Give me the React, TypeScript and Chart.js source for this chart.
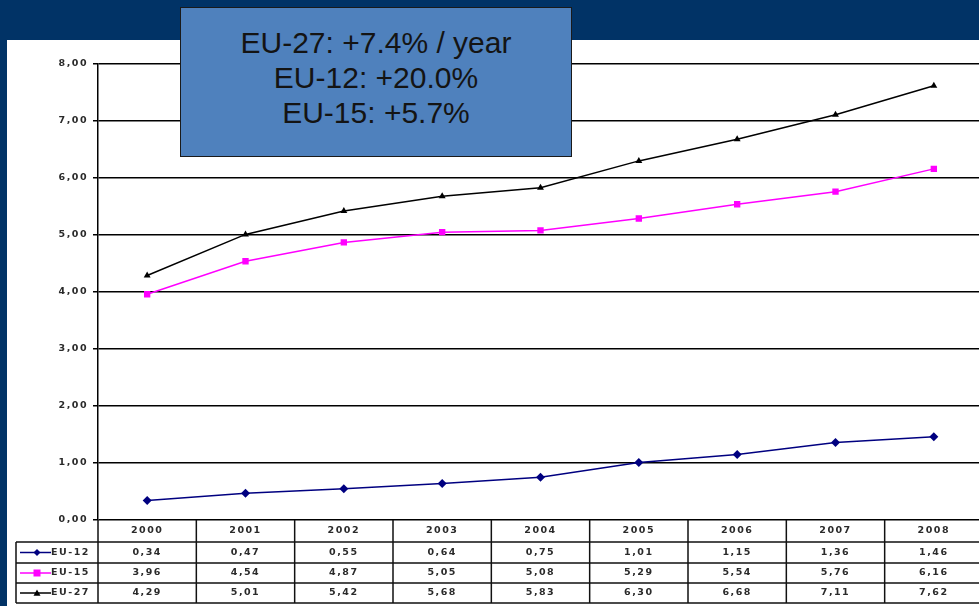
import React, { useEffect, useRef } from 'react';
import { Chart, registerables } from 'chart.js';

Chart.register(...registerables);

const years = ['2000', '2001', '2002', '2003', '2004', '2005', '2006', '2007', '2008'];
const eu12 = [0.34, 0.47, 0.55, 0.64, 0.75, 1.01, 1.15, 1.36, 1.46];
const eu15 = [3.96, 4.54, 4.87, 5.05, 5.08, 5.29, 5.54, 5.76, 6.16];
const eu27 = [4.29, 5.01, 5.42, 5.68, 5.83, 6.30, 6.68, 7.11, 7.62];
const yTicks = [0, 1, 2, 3, 4, 5, 6, 7, 8];
const seriesNames = ['EU-12', 'EU-15', 'EU-27'];
const seriesColors = ['#000080', '#FF00FF', '#000000'];
const seriesMarkers = ['rectRot', 'rect', 'triangle'];
const growthLines = ['EU-27: +7.4% / year', 'EU-12: +20.0%', 'EU-15: +5.7%'];

const fmt = (v: number) => v.toFixed(2).replace('.', ',');
const SMALL_FONT = 'bold 9.5px "DejaVu Sans", sans-serif';

function drawMarker(ctx: CanvasRenderingContext2D, style: string, x: number, y: number, r: number, color: string) {
  ctx.fillStyle = color;
  ctx.beginPath();
  if (style === 'rectRot') {
    ctx.moveTo(x, y - r); ctx.lineTo(x + r, y); ctx.lineTo(x, y + r); ctx.lineTo(x - r, y);
  } else if (style === 'rect') {
    ctx.rect(x - r, y - r, 2 * r, 2 * r);
  } else {
    ctx.moveTo(x, y - r); ctx.lineTo(x + r, y + r * 0.8); ctx.lineTo(x - r, y + r * 0.8);
  }
  ctx.closePath();
  ctx.fill();
}

const panelPlugin = {
  id: 'panel',
  beforeDraw(chart: any) {
    const ctx = chart.ctx as CanvasRenderingContext2D;
    ctx.save();
    ctx.fillStyle = '#013366';
    ctx.fillRect(0, 0, chart.width, chart.height);
    ctx.fillStyle = '#ffffff';
    ctx.fillRect(7, 40, chart.width - 7, chart.height - 40);
    ctx.restore();
  },
  afterDraw(chart: any) {
    const ctx = chart.ctx as any;
    const xs = chart.scales.x;
    const ys = chart.scales.y;
    const n = years.length;
    const colW = (xs.right - xs.left) / n;
    const top = chart.chartArea.bottom;
    const rowY = [top, top + 22, top + 43, top + 63, top + 83];
    const legendLeft = 16;
    ctx.save();
    ctx.strokeStyle = '#111';
    ctx.lineWidth = 1.5;
    ctx.beginPath();
    for (let r = 1; r < rowY.length; r++) {
      ctx.moveTo(legendLeft, rowY[r]);
      ctx.lineTo(xs.right + 20, rowY[r]);
    }
    ctx.moveTo(legendLeft, rowY[1]);
    ctx.lineTo(legendLeft, rowY[4]);
    for (let i = 0; i <= n; i++) {
      const x = xs.left + i * colW;
      ctx.moveTo(x, rowY[0]);
      ctx.lineTo(x, rowY[4]);
    }
    ctx.stroke();

    ctx.font = SMALL_FONT;
    ctx.letterSpacing = '1.5px';
    ctx.fillStyle = '#2a2a2a';
    // y tick labels
    ctx.textAlign = 'right';
    ctx.textBaseline = 'middle';
    yTicks.forEach((t) => {
      ctx.fillText(fmt(t), ys.left + 88, ys.getPixelForValue(t));
    });

    ctx.textAlign = 'center';
    years.forEach((y, i) => {
      ctx.fillText(y, xs.getPixelForValue(i), (rowY[0] + rowY[1]) / 2);
    });
    const all = [eu12, eu15, eu27];
    all.forEach((arr, s) => {
      const cy = (rowY[s + 1] + rowY[s + 2]) / 2;
      arr.forEach((v, i) => {
        ctx.fillStyle = '#2a2a2a';
        ctx.fillText(fmt(v), xs.getPixelForValue(i), cy);
      });
      ctx.strokeStyle = seriesColors[s];
      ctx.lineWidth = 1.5;
      ctx.beginPath();
      ctx.moveTo(20, cy);
      ctx.lineTo(51, cy);
      ctx.stroke();
      drawMarker(ctx, seriesMarkers[s], 37, cy, s === 1 ? 3.5 : 3.5, seriesColors[s]);
      ctx.fillStyle = '#2a2a2a';
      ctx.textAlign = 'left';
      ctx.fillText(seriesNames[s], 51, cy);
      ctx.textAlign = 'center';
    });
    ctx.restore();
  },
};

export default function App() {
  const ref = useRef<HTMLCanvasElement | null>(null);
  useEffect(() => {
    if (!ref.current) return;
    const datasets = [eu12, eu15, eu27].map((d, s) => ({
      label: seriesNames[s],
      data: d,
      borderColor: seriesColors[s],
      backgroundColor: seriesColors[s],
      borderWidth: 1.5,
      pointStyle: seriesMarkers[s] as any,
      pointRadius: s === 2 ? 4 : 4.5,
      pointBorderWidth: 0,
      tension: 0,
    }));
    const chart = new Chart(ref.current, {
      type: 'line',
      data: { labels: years, datasets },
      options: {
        responsive: false,
        devicePixelRatio: 1,
        animation: false,
        layout: { padding: { top: 64, bottom: 86, left: 0, right: 9 } },
        plugins: { legend: { display: false }, tooltip: { enabled: false } },
        scales: {
          x: { display: false, offset: true },
          y: {
            min: 0,
            max: 8,
            afterFit: (s: any) => { s.width = 98; },
            ticks: { stepSize: 1, display: false },
            grid: { color: '#000', lineWidth: 1.5, tickLength: 5, drawTicks: true },
            border: { display: true, color: '#000', width: 1.5 },
          },
        },
      },
      plugins: [panelPlugin],
    });
    return () => chart.destroy();
  }, []);

  return (
    <div style={{ position: 'fixed', left: 0, top: 0, width: 979, height: 606, overflow: 'hidden' }}>
      <canvas ref={ref} width={992} height={606} style={{ position: 'absolute', left: 0, top: 0, width: 992, height: 606 }} />
      <div
        style={{
          position: 'absolute',
          left: 180,
          top: 7,
          width: 392,
          height: 150,
          boxSizing: 'border-box',
          background: '#4F81BD',
          border: '1.5px solid #1a1a1a',
          color: '#141414',
          fontFamily: '"Liberation Sans", Arial, sans-serif',
          fontSize: 30,
          lineHeight: '35px',
          textAlign: 'center',
          paddingTop: 17,
        }}
      >
        {growthLines.map((t) => (
          <div key={t}>{t}</div>
        ))}
      </div>
    </div>
  );
}
